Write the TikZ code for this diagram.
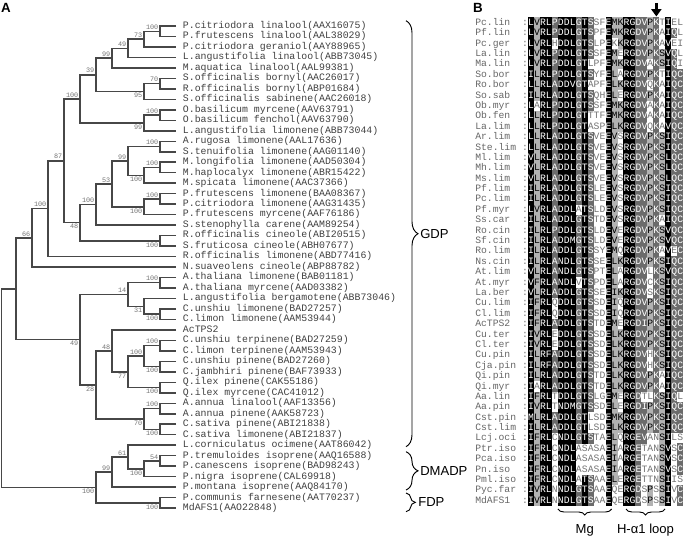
\documentclass[tikz,border=0pt]{standalone}
\usepackage{fontspec}
\setmainfont{Liberation Sans}
\setmonofont{Liberation Mono}
\usepackage{tikz}
\usetikzlibrary{decorations.pathreplacing,arrows.meta}

\tikzset{
  branch/.style={draw=black!72, line width=1.1pt, line join=miter},
  leaf/.style={anchor=west, inner xsep=5pt, inner ysep=0pt, text=black!75,
    font=\ttfamily\fontsize{7.4}{7.4}\selectfont, text height=5pt, text depth=1.4pt},
  bsa/.style={anchor=south east, inner sep=1.1pt, text=black!55,
    font=\ttfamily\fontsize{5.1}{5.1}\selectfont},
  bsb/.style={anchor=north east, inner sep=1.1pt, text=black!55,
    font=\ttfamily\fontsize{5.1}{5.1}\selectfont},
  panel/.style={font=\bfseries\fontsize{10}{10}\selectfont},
  grp/.style={anchor=west, inner sep=0pt, font=\fontsize{9.8}{9.8}\selectfont},
  grpbrace/.style={decorate, decoration={brace, amplitude=#1}, line width=0.7pt},
  alnlab/.style={anchor=west, inner sep=0pt, text=black!60,
    font=\ttfamily\fontsize{7.3}{7.3}\selectfont, text height=4.6pt, text depth=0.6pt},
  cell/.style={minimum width=4.55pt, minimum height=7.85pt, inner sep=0pt,
    font=\ttfamily\fontsize{7.3}{7.3}\selectfont, text height=4.6pt, text depth=0.6pt},
  resb/.style={cell, fill=black, text=white},
  resd/.style={cell, fill=black!58, text=white},
  resl/.style={cell, fill=black!30, text=black},
  resw/.style={cell, text=black!55},
}

% shading of the alignment: column, level, residues
\newcount\colno
\def\shset#1#2#3{\foreach \rs in {#3}{\expandafter\xdef\csname sh@#1@\rs\endcsname{#2}}}
\shset{1}{b}{L,I,V,M}
\shset{2}{l}{V,L,F}
\shset{3}{b}{R}
\shset{4}{b}{L,F}
\shset{5}{d}{P,A}
\shset{6}{b}{D,N}
\shset{7}{b}{D}
\shset{8}{b}{L,M,V}
\shset{9}{d}{G}
\shset{10}{b}{T}
\shset{11}{d}{S}
\shset{14}{b}{E}
\shset{15}{l}{L,M,V,I}
\shset{16}{l}{K}
\shset{17}{b}{R}
\shset{18}{b}{G}
\shset{19}{d}{D,E}
\shset{20}{d}{V,I}
\shset{21}{l}{P}
\shset{22}{d}{K}
\shset{23}{l}{S}
\shset{24}{b}{I,L,V}
\shset{25}{d}{Q}
\shset{26}{d}{C}

\def\alncell#1{%
  \pgfmathsetmacro\cx{528+(\the\colno-0.5)*5.97}%
  \expandafter\ifx\csname sh@\the\colno @#1\endcsname\relax
    \def\lev{w}%
  \else
    \edef\lev{\csname sh@\the\colno @#1\endcsname}%
  \fi
  \edef\doit{\noexpand\node[res\lev] (a\rw-\the\colno) at (\cx,\ry) {#1};}%
  \doit}
\def\alnloop#1{\ifx#1\relax\else\advance\colno by 1\relax\alncell{#1}\expandafter\alnloop\fi}

\begin{document}
\begin{tikzpicture}[x=0.75pt,y=0.75pt,yscale=-1,xscale=1]
\useasboundingbox (0,0) rectangle (685,545);

% Text Node
\node[panel] (pa) at (6,8) {A};
\node[panel] (pb) at (478,8) {B};

% Leaves
\node[leaf] (l1) at (176,26.0) {P.citriodora linalool(AAX16075)};
\node[leaf] (l2) at (176,36.5) {P.frutescens linalool(AAL38029)};
\node[leaf] (l3) at (176,47.0) {P.citriodora geraniol(AAY88965)};
\node[leaf] (l4) at (176,57.4) {L.angustifolia linalool(ABB73045)};
\node[leaf] (l5) at (176,67.9) {M.aquatica linalool(AAL99381)};
\node[leaf] (l6) at (176,78.4) {S.officinalis bornyl(AAC26017)};
\node[leaf] (l7) at (176,88.9) {R.officinalis bornyl(ABP01684)};
\node[leaf] (l8) at (176,99.4) {S.officinalis sabinene(AAC26018)};
\node[leaf] (l9) at (176,109.8) {O.basilicum myrcene(AAV63791)};
\node[leaf] (l10) at (176,120.3) {O.basilicum fenchol(AAV63790)};
\node[leaf] (l11) at (176,130.8) {L.angustifolia limonene(ABB73044)};
\node[leaf] (l12) at (176,141.3) {A.rugosa limonene(AAL17636)};
\node[leaf] (l13) at (176,151.8) {S.tenuifolia limonene(AAG01140)};
\node[leaf] (l14) at (176,162.2) {M.longifolia limonene(AAD50304)};
\node[leaf] (l15) at (176,172.7) {M.haplocalyx limonene(ABR15422)};
\node[leaf] (l16) at (176,183.2) {M.spicata limonene(AAC37366)};
\node[leaf] (l17) at (176,193.7) {P.frutescens limonene(BAA08367)};
\node[leaf] (l18) at (176,204.2) {P.citriodora limonene(AAG31435)};
\node[leaf] (l19) at (176,214.6) {P.frutescens myrcene(AAF76186)};
\node[leaf] (l20) at (176,225.1) {S.stenophylla carene(AAM89254)};
\node[leaf] (l21) at (176,235.6) {R.officinalis cineole(ABI20515)};
\node[leaf] (l22) at (176,246.1) {S.fruticosa cineole(ABH07677)};
\node[leaf] (l23) at (176,256.6) {R.officinalis limonene(ABD77416)};
\node[leaf] (l24) at (176,267.0) {N.suaveolens cineole(ABP88782)};
\node[leaf] (l25) at (176,277.5) {A.thaliana limonene(BAB01181)};
\node[leaf] (l26) at (176,288.0) {A.thaliana myrcene(AAD03382)};
\node[leaf] (l27) at (176,298.5) {L.angustifolia bergamotene(ABB73046)};
\node[leaf] (l28) at (176,309.0) {C.unshiu limonene(BAD27257)};
\node[leaf] (l29) at (176,319.4) {C.limon limonene(AAM53944)};
\node[leaf] (l30) at (176,329.9) {AcTPS2};
\node[leaf] (l31) at (176,340.4) {C.unshiu terpinene(BAD27259)};
\node[leaf] (l32) at (176,350.9) {C.limon terpinene(AAM53943)};
\node[leaf] (l33) at (176,361.4) {C.unshiu pinene(BAD27260)};
\node[leaf] (l34) at (176,371.8) {C.jambhiri pinene(BAF73933)};
\node[leaf] (l35) at (176,382.3) {Q.ilex pinene(CAK55186)};
\node[leaf] (l36) at (176,392.8) {Q.ilex myrcene(CAC41012)};
\node[leaf] (l37) at (176,403.3) {A.annua linalool(AAF13356)};
\node[leaf] (l38) at (176,413.8) {A.annua pinene(AAK58723)};
\node[leaf] (l39) at (176,424.2) {C.sativa pinene(ABI21838)};
\node[leaf] (l40) at (176,434.7) {C.sativa limonene(ABI21837)};
\node[leaf] (l41) at (176,445.2) {L.corniculatus ocimene(AAT86042)};
\node[leaf] (l42) at (176,455.7) {P.tremuloides isoprene(AAQ16588)};
\node[leaf] (l43) at (176,466.2) {P.canescens isoprene(BAD98243)};
\node[leaf] (l44) at (176,476.6) {P.nigra isoprene(CAL69918)};
\node[leaf] (l45) at (176,487.1) {P.montana isoprene(AAQ84170)};
\node[leaf] (l46) at (176,497.6) {P.communis farnesene(AAT70237)};
\node[leaf] (l47) at (176,508.1) {MdAFS1(AAO22848)};

% Inner nodes of the tree
\coordinate (n1) at (160,31.25);
\coordinate (n2) at (144,39.1);
\coordinate (n3) at (128,48.3);
\coordinate (n4) at (112,58.1);
\coordinate (n5) at (160,83.65);
\coordinate (n6) at (144,91.5);
\coordinate (n7) at (96,74.8);
\coordinate (n8) at (160,115.05);
\coordinate (n9) at (144,122.9);
\coordinate (n10) at (80,98.9);
\coordinate (n11) at (160,146.55);
\coordinate (n12) at (160,167.45);
\coordinate (n13) at (144,175.3);
\coordinate (n14) at (128,160.9);
\coordinate (n15) at (160,198.95);
\coordinate (n16) at (144,206.8);
\coordinate (n17) at (112,183.9);
\coordinate (n18) at (96,204.5);
\coordinate (n19) at (160,240.85);
\coordinate (n20) at (80,222.7);
\coordinate (n21) at (64,160.8);
\coordinate (n22) at (48,208.7);
\coordinate (n23) at (32,237.85);
\coordinate (n24) at (160,282.75);
\coordinate (n25) at (160,314.2);
\coordinate (n26) at (144,306.35);
\coordinate (n27) at (128,294.55);
\coordinate (n28) at (160,345.65);
\coordinate (n29) at (160,366.6);
\coordinate (n30) at (144,356.1);
\coordinate (n31) at (160,387.55);
\coordinate (n32) at (128,371.8);
\coordinate (n33) at (112,350.85);
\coordinate (n34) at (160,408.55);
\coordinate (n35) at (160,429.45);
\coordinate (n36) at (144,419);
\coordinate (n37) at (96,384.9);
\coordinate (n38) at (80,339.7);
\coordinate (n39) at (16,288.8);
\coordinate (n40) at (160,460.95);
\coordinate (n41) at (144,468.8);
\coordinate (n42) at (128,457);
\coordinate (n43) at (112,472.05);
\coordinate (n44) at (160,502.85);
\coordinate (n45) at (96,487.45);
\coordinate (n46) at (1.5,388.1);

%Straight Lines
\draw[branch] (l1.west) -| (n1) |- (l2.west);
\draw[branch] (n1) -| (n2) |- (l3.west);
\draw[branch] (n2) -| (n3) |- (l4.west);
\draw[branch] (n3) -| (n4) |- (l5.west);
\draw[branch] (l6.west) -| (n5) |- (l7.west);
\draw[branch] (n5) -| (n6) |- (l8.west);
\draw[branch] (n4) -| (n7) |- (n6);
\draw[branch] (l9.west) -| (n8) |- (l10.west);
\draw[branch] (n8) -| (n9) |- (l11.west);
\draw[branch] (n7) -| (n10) |- (n9);
\draw[branch] (l12.west) -| (n11) |- (l13.west);
\draw[branch] (l14.west) -| (n12) |- (l15.west);
\draw[branch] (n12) -| (n13) |- (l16.west);
\draw[branch] (n11) -| (n14) |- (n13);
\draw[branch] (l17.west) -| (n15) |- (l18.west);
\draw[branch] (n15) -| (n16) |- (l19.west);
\draw[branch] (n14) -| (n17) |- (n16);
\draw[branch] (n17) -| (n18) |- (l20.west);
\draw[branch] (l21.west) -| (n19) |- (l22.west);
\draw[branch] (n18) -| (n20) |- (n19);
\draw[branch] (n10) -| (n21) |- (n20);
\draw[branch] (n21) -| (n22) |- (l23.west);
\draw[branch] (n22) -| (n23) |- (l24.west);
\draw[branch] (l25.west) -| (n24) |- (l26.west);
\draw[branch] (l28.west) -| (n25) |- (l29.west);
\draw[branch] (l27.west) -| (n26) |- (n25);
\draw[branch] (n24) -| (n27) |- (n26);
\draw[branch] (l31.west) -| (n28) |- (l32.west);
\draw[branch] (l33.west) -| (n29) |- (l34.west);
\draw[branch] (n28) -| (n30) |- (n29);
\draw[branch] (l35.west) -| (n31) |- (l36.west);
\draw[branch] (n30) -| (n32) |- (n31);
\draw[branch] (l30.west) -| (n33) |- (n32);
\draw[branch] (l37.west) -| (n34) |- (l38.west);
\draw[branch] (l39.west) -| (n35) |- (l40.west);
\draw[branch] (n34) -| (n36) |- (n35);
\draw[branch] (n33) -| (n37) |- (n36);
\draw[branch] (n27) -| (n38) |- (n37);
\draw[branch] (n23) -| (n39) |- (n38);
\draw[branch] (l42.west) -| (n40) |- (l43.west);
\draw[branch] (n40) -| (n41) |- (l44.west);
\draw[branch] (l41.west) -| (n42) |- (n41);
\draw[branch] (n42) -| (n43) |- (l45.west);
\draw[branch] (l46.west) -| (n44) |- (l47.west);
\draw[branch] (n43) -| (n45) |- (n44);
\draw[branch] (n39) -| (n46) |- (n45);

% Bootstrap values
\node[bsa] (b1) at (n1) {100};
\node[bsa] (b2) at (n2) {73};
\node[bsa] (b3) at (n3) {49};
\node[bsa] (b4) at (n4) {99};
\node[bsa] (b5) at (n5) {70};
\node[bsb] (b6) at (n6) {95};
\node[bsa] (b7) at (n7) {39};
\node[bsa] (b8) at (n8) {100};
\node[bsb] (b9) at (n9) {99};
\node[bsa] (b10) at (n10) {100};
\node[bsa] (b11) at (n11) {100};
\node[bsa] (b12) at (n12) {100};
\node[bsb] (b13) at (n13) {100};
\node[bsa] (b14) at (n14) {99};
\node[bsa] (b15) at (n15) {100};
\node[bsb] (b16) at (n16) {100};
\node[bsa] (b17) at (n17) {53};
\node[bsa] (b18) at (n18) {100};
\node[bsb] (b19) at (n19) {100};
\node[bsb] (b20) at (n20) {48};
\node[bsa] (b21) at (n21) {87};
\node[bsa] (b22) at (n22) {100};
\node[bsa] (b23) at (n23) {66};
\node[bsa] (b24) at (n24) {100};
\node[bsb] (b25) at (n25) {100};
\node[bsb] (b26) at (n26) {31};
\node[bsa] (b27) at (n27) {14};
\node[bsa] (b28) at (n28) {100};
\node[bsb] (b29) at (n29) {100};
\node[bsa] (b30) at (n30) {100};
\node[bsb] (b31) at (n31) {100};
\node[bsb] (b32) at (n32) {77};
\node[bsa] (b33) at (n33) {48};
\node[bsa] (b34) at (n34) {100};
\node[bsb] (b35) at (n35) {100};
\node[bsb] (b36) at (n36) {70};
\node[bsb] (b37) at (n37) {28};
\node[bsb] (b38) at (n38) {49};
\node[bsa] (b40) at (n40) {54};
\node[bsb] (b41) at (n41) {100};
\node[bsa] (b42) at (n42) {61};
\node[bsa] (b43) at (n43) {99};
\node[bsb] (b44) at (n44) {100};
\node[bsb] (b45) at (n45) {100};

% Substrate groups
\draw[grpbrace=9pt] (406,20.7) -- (406,446.7);
\draw[grpbrace=9pt] (406,451.7) -- (406,490);
\draw[grpbrace=7pt] (406,493) -- (406,511.7);
\node[grp] (gdp) at (420,233.7) {GDP};
\node[grp] (dmadp) at (420,471) {DMADP};
\node[grp] (fdp) at (418,502.4) {FDP};

% Alignment
\foreach \lab/\sq [count=\rw] in {Pc.lin/LVRLPDDLGTSSFEMKRGDVPKTIEL,
Pf.lin/LVRLPDDLGTSPFEMKRGDVPKAIQL,
Pc.ger/LVRLHDDLGTSLPEKKRGDVPKAVEI,
La.lin/LVRLPDDLGTSSFEMERGDVPKSVQL,
Ma.lin/LVRLPDDLGTLPFEMKRGDVAKSIQI,
So.bor/ILRLPDDLGTSYFELARGDVPKTIQC,
Ro.bor/LLRLADDVGTAPFELKRGDVQKAIQC,
So.sab/ILRLADDLGTSQHELERGDVPKAIQC,
Ob.myr/LARLPDDLGTSSFEMKRGDVAKAIQC,
Ob.fen/LLRLPDDLGTTTFEMKRGDVAKAIQC,
La.lim/LLRLPDDLGTASPELKRGDVQKAVQC,
Ar.lim/LLRLADDLGTSVEEVSRGDVPKSIQC,
Ste.lim/LLRLADDLGTSVEEVSRGDVPKSIQC,
Ml.lim/VLRLADDLGTSVEEVSRGDVPKSLQC,
Mh.lim/VLRLADDLGTSVEEVSRGDVPKSLQC,
Ms.lim/VLRLADDLGTSVEEVSRGDVPKSLQC,
Pf.lim/ILRLADDLGTSLEEVSRGDVPKSIQC,
Pc.lim/ILRLADDLGTSLEEVSRGDVPKSIQC,
Pf.myr/LVRLADDLATSLDEVSRGDVPKSIQC,
Ss.car/ILRLADDLGTSTDEVSRGDVPKAIQC,
Ro.cin/ILRLPDDLGTSLDEVERGDVPKSVQC,
Sf.cin/ILRLADDMGTSLDEVERGDVPKSVQC,
Ro.lim/ILRLADDLGTSSYEMQRGDVPKAVEC,
Ns.cin/ILRLANDLGTSSEELKRGDVPKSIQC,
At.lim/VLRLANDLGTSPTELARGDVLKSVQC,
At.myr/VFRLANDLVTSPDELARGDVCKSIQC,
La.ber/VLRLADDLGTSSEEIKRGDVSKSIQC,
Cu.lim/IFRLQDDLGTSSDEIQRGDVPKSIQC,
Cl.lim/IFRLQDDLGTSSDEIQRGDVPKSIQC,
AcTPS2/IFRLADDLGTSTDEMERGDIPKSIQC,
Cu.ter/IVRLEDDLGTSSDELKRGDVPKSIQC,
Cl.ter/IVRLEDDLGTSSDELKRGDVPKSIQC,
Cu.pin/ILRFADDLGTSSDELKRGDVHKSIQC,
Cja.pin/ILRFADDLGTSSDELKRGDVHKSIQC,
Qi.pin/ILRLADDLGTSTDELKRGDVPKAIQC,
Qi.myr/IARLADDLGTSTDELKRGDVPKAIQC,
Aa.lin/IFRLTDDLGTSLGEMERGDTLKSIQL,
Aa.pin/IVRLTNDMGTSSDELERGDIPKSIQC,
Cst.pin/MLRLADDLGTLSDEMKRGDVPKSIQC,
Cst.lim/ILRLADDLGTLSDELKRGDVPKSIQC,
Lcj.oci/IFRLCNDLGTSTAELQRGEVANSILS,
Ptr.iso/IFRLCNDLASASAEIARGETANSVSC,
Pca.iso/IFRLCNDLASASAEIARGETANSVSC,
Pn.iso/IFRLCNDLASASAEIARGETANSVSC,
Pml.iso/IFRLCNDLATSAAELERGETTNSIIS,
Pyc.far/IVRLNNDLGTSAAEQERGDSPSSIVC,
MdAFS1/IVRLNNDLGTSAAEQERGDSPSSIVC}{
  \pgfmathsetmacro\ry{22.7+(\rw-1)*10.39}
  \node[alnlab] (s\rw) at (475,\ry) {\lab};
  \node[resw] (c\rw) at (525,\ry) {:};
  \colno=0
  \expandafter\alnloop\sq\relax
}

% Arrow over the alignment
\coordinate (arr1) at (656.35,3);
\coordinate (arr2) at (656.35,16.5);
\draw[line width=2pt, -{Triangle[width=7.5pt,length=5.5pt]}] (arr1) -- (arr2);

% Motif braces
\draw[grpbrace=4.5pt] (611.6,509) -- (557.9,509);
\draw[grpbrace=4.5pt] (665,509) -- (626,509);
\node[grp, anchor=center] (mg) at (584.7,530) {Mg};
\node[grp, anchor=center] (loop) at (645.5,530) {H-α1 loop};

\end{tikzpicture}
\end{document}
